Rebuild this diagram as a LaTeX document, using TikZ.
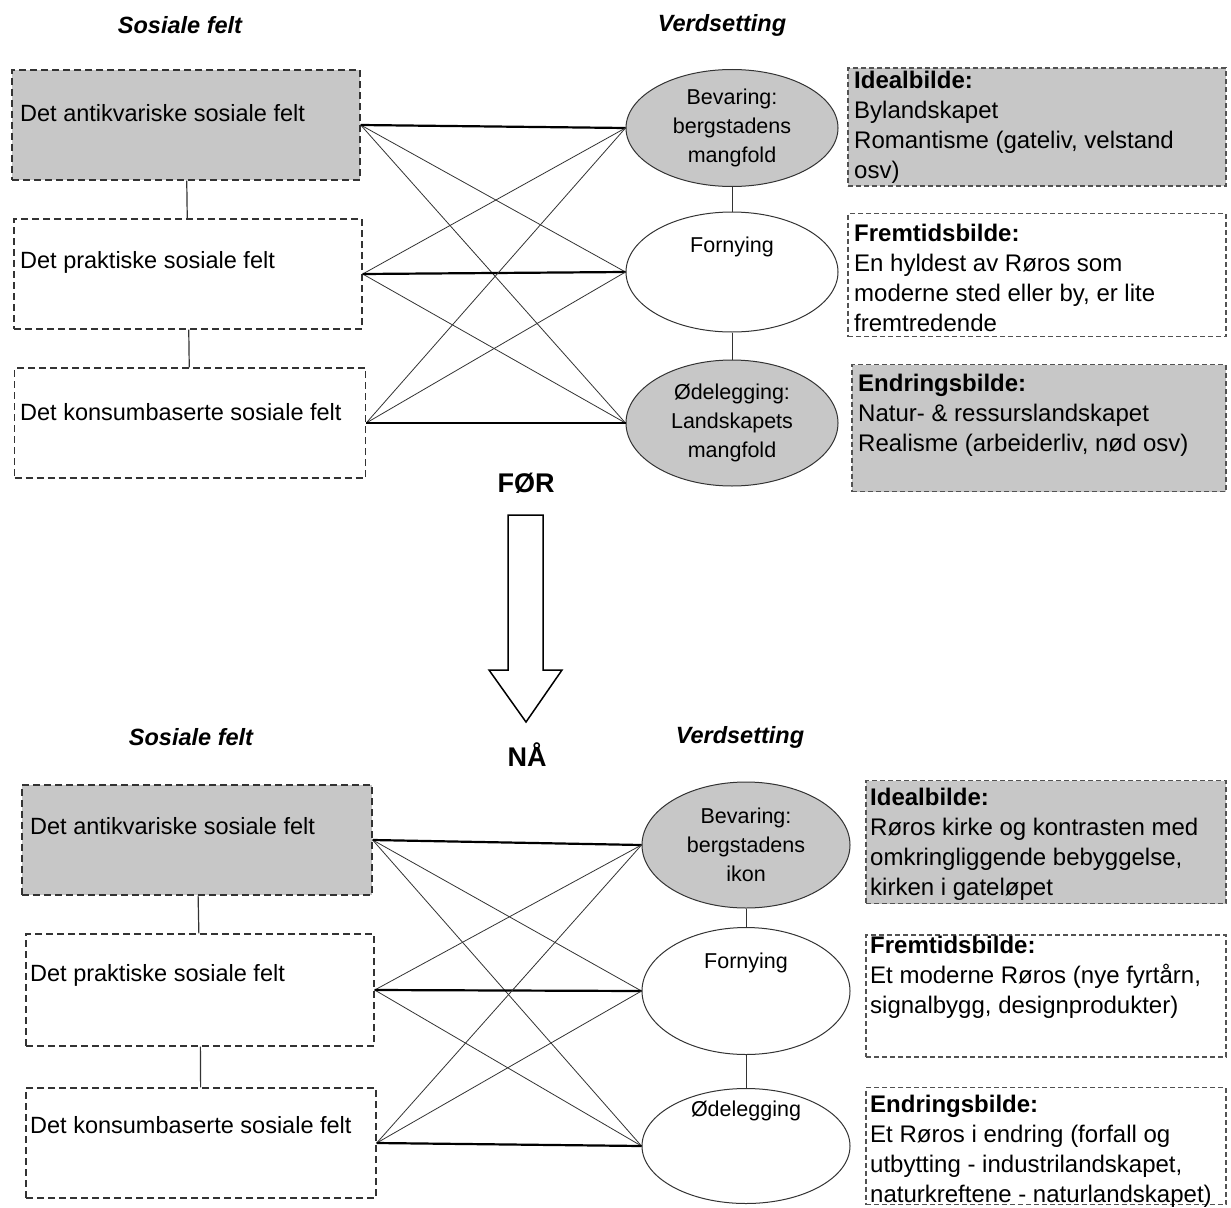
\documentclass[tikz,border=0pt]{standalone}
\usepackage{fontspec}
\setmainfont{Liberation Sans}
\usetikzlibrary{shapes.geometric}
\definecolor{feltgray}{gray}{0.78}
\definecolor{linegray}{gray}{0.2}
\tikzset{
  feltbox/.style={draw=linegray, line width=1.4pt, dash pattern=on 7pt off 4pt, minimum width=348pt, minimum height=110pt, inner sep=0pt},
  bildebox/.style={draw=linegray!85, line width=1.2pt, dash pattern=on 5pt off 3pt, inner sep=0pt},
  verdi/.style={ellipse, draw=linegray, line width=1pt, minimum width=212pt, inner sep=0pt, align=center, font=\fontsize{21.5}{29}\selectfont},
  felttxt/.style={anchor=west, inner sep=0pt, font=\fontsize{23.5}{26}\selectfont},
  bildetxt/.style={anchor=north west, inner sep=0pt, align=left, font=\fontsize{24}{30}\selectfont},
  tittel/.style={font=\fontsize{23.5}{26}\selectfont\bfseries\itshape},
  sterk/.style={line width=2.2pt},
  svak/.style={line width=0.8pt, linegray},
}

\begin{document}
\begin{tikzpicture}[x=1pt, y=-1pt]
        \useasboundingbox (0,0) rectangle (1231,1207);
        % FØR
        \node[tittel] (tf1) at (180,25) {Sosiale felt};
        \node[tittel] (tf2) at (722,25) {Verdsetting};
        \node[feltbox, fill=feltgray] (ff1) at (186,125) {};
        \node[feltbox] (ff2) at (188,274) {};
        \node[feltbox, minimum width=351pt] (ff3) at (190,423) {};
        \node[felttxt] (ft1) at (20,113) {Det antikvariske sosiale felt};
        \node[felttxt] (ft2) at (20,262) {Det praktiske sosiale felt};
        \node[felttxt] (ft3) at (20,412) {Det konsumbaserte sosiale felt};
        \draw[linegray, line width=1.2pt] (ff1) -- (ff2);
        \draw[linegray, line width=1.2pt] (ff2) -- (ff3);
        \node[verdi, fill=feltgray, minimum height=117pt] (vf1) at (732,128) {Bevaring:\\bergstadens\\mangfold};
        \node[verdi, minimum height=120pt] (vf2) at (732,272) {};
        \node[verdi, fill=feltgray, minimum height=126pt] (vf3) at (732,423) {Ødelegging:\\Landskapets\\mangfold};
        \node[verdi, draw=none, minimum height=0pt, minimum width=0pt] (vt2) at (732,247) {Fornying};
        \draw[linegray, line width=1pt] (vf1) -- (vf2);
        \draw[linegray, line width=1pt] (vf2) -- (vf3);
        \foreach \i in {1,2,3}{
          \foreach \j in {1,2,3}{
            \draw[svak] (ff\i.east) -- (vf\j.west);
          }
          \draw[sterk] (ff\i.east) -- (vf\i.west);
        }
        \node[bildebox, fill=feltgray, minimum width=378pt, minimum height=118pt] (bf1) at (1037,127) {};
        \node[bildebox, minimum width=378pt, minimum height=123pt] (bf2) at (1037,275) {};
        \node[bildebox, fill=feltgray, minimum width=374pt, minimum height=127pt] (bf3) at (1039,428) {};
        \node[bildetxt] (bt1) at (854,71) {\textbf{Idealbilde:}\\Bylandskapet\\Romantisme (gateliv, velstand\\osv)};
        \node[bildetxt] (bt2) at (854,224) {\textbf{Fremtidsbilde:}\\En hyldest av Røros som\\moderne sted eller by, er lite\\fremtredende};
        \node[bildetxt] (bt3) at (858,374) {\textbf{Endringsbilde:}\\Natur- \& ressurslandskapet\\Realisme (arbeiderliv, nød osv)};
        % overgang
        \node[font=\fontsize{27}{30}\selectfont\bfseries] (foer) at (526,483) {FØR};
        \node[font=\fontsize{27}{30}\selectfont\bfseries] (naa) at (527,755) {NÅ};
        \draw[line width=1.5pt, line join=miter] (508,515) -- (543,515) -- (543,670) -- (562,670) -- (526,722) -- (489,670) -- (508,670) -- cycle;
        % NÅ
        \node[tittel] (tn1) at (191,737) {Sosiale felt};
        \node[tittel] (tn2) at (740,737) {Verdsetting};
        \node[feltbox, fill=feltgray, minimum width=350pt] (fn1) at (197,840) {};
        \node[feltbox, minimum height=112pt] (fn2) at (200,990) {};
        \node[feltbox, minimum width=350pt] (fn3) at (201,1143) {};
        \node[felttxt] (nt1) at (30,826) {Det antikvariske sosiale felt};
        \node[felttxt] (nt2) at (30,975) {Det praktiske sosiale felt};
        \node[felttxt] (nt3) at (30,1125) {Det konsumbaserte sosiale felt};
        \draw[linegray, line width=1.2pt] (fn1) -- (fn2);
        \draw[linegray, line width=1.2pt] (fn2) -- (fn3);
        \node[verdi, fill=feltgray, minimum width=208pt, minimum height=126pt] (vn1) at (746,845) {Bevaring:\\bergstadens\\ikon};
        \node[verdi, minimum width=208pt, minimum height=127pt] (vn2) at (746,991) {};
        \node[verdi, minimum width=208pt, minimum height=115pt] (vn3) at (746,1146) {};
        \node[verdi, draw=none, minimum height=0pt, minimum width=0pt] (vt4) at (746,963) {Fornying};
        \node[verdi, draw=none, minimum height=0pt, minimum width=0pt] (vt5) at (746,1111) {Ødelegging};
        \draw[linegray, line width=1pt] (vn1) -- (vn2);
        \draw[linegray, line width=1pt] (vn2) -- (vn3);
        \foreach \i in {1,2,3}{
          \foreach \j in {1,2,3}{
            \draw[svak] (fn\i.east) -- (vn\j.west);
          }
          \draw[sterk] (fn\i.east) -- (vn\i.west);
        }
        \node[bildebox, fill=feltgray, minimum width=360pt, minimum height=123pt] (bn1) at (1046,842) {};
        \node[bildebox, minimum width=360pt, minimum height=122pt] (bn2) at (1046,996) {};
        \node[bildebox, minimum width=360pt, minimum height=117pt] (bn3) at (1046,1146) {};
        \node[bildetxt] (nb1) at (870,788) {\textbf{Idealbilde:}\\Røros kirke og kontrasten med\\omkringliggende bebyggelse,\\kirken i gateløpet};
        \node[bildetxt] (nb2) at (870,936) {\textbf{Fremtidsbilde:}\\Et moderne Røros (nye fyrtårn,\\signalbygg, designprodukter)};
        \node[bildetxt] (nb3) at (870,1095) {\textbf{Endringsbilde:}\\Et Røros i endring (forfall og\\utbytting - industrilandskapet,\\naturkreftene - naturlandskapet)};
\end{tikzpicture}
\end{document}
